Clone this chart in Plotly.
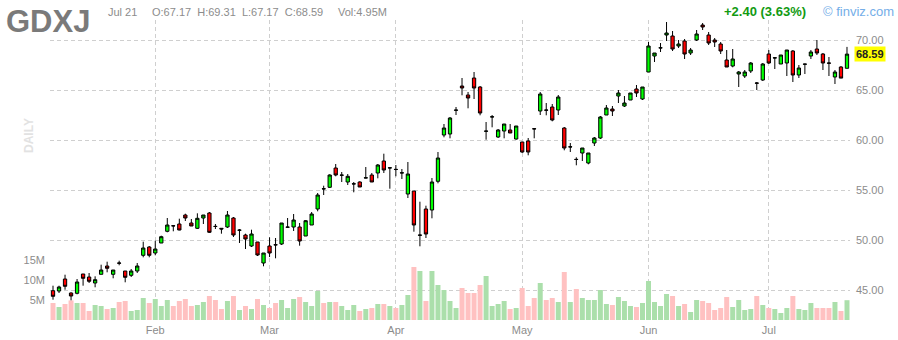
import pandas as pd
import plotly.graph_objects as go

# ---- data ----
holidays = ["2025-01-09", "2025-01-20", "2025-02-17", "2025-04-18",
            "2025-05-26", "2025-06-19", "2025-07-04"]
dates = [d.strftime("%Y-%m-%d") for d in pd.bdate_range("2025-01-07", "2025-07-21")
         if d.strftime("%Y-%m-%d") not in holidays]

opens = [44.93, 44.90, 46.10, 44.70, 44.67, 46.60, 46.30, 45.70, 46.57, 47.40,
         46.57, 47.70, 46.90, 46.47, 46.90, 48.47, 49.30, 48.70, 49.70, 50.87,
         51.43, 51.60, 52.50, 51.70, 51.17, 52.20, 52.70, 51.37, 51.17, 51.30,
         52.20, 50.97, 50.50, 49.40, 49.80, 47.70, 49.40, 49.53, 49.60, 51.27,
         51.30, 51.30, 50.40, 51.50, 53.10, 55.13, 55.27, 57.20, 56.47, 55.80,
         55.60, 55.80, 56.20, 56.50, 56.70, 57.90, 57.20, 57.07, 56.70, 54.60,
         54.90, 50.47, 53.10, 53.00, 55.87, 60.50, 60.60, 62.97, 65.40, 64.50,
         66.20, 65.30, 60.87, 62.30, 60.30, 60.90, 61.00, 60.10, 59.80, 59.90,
         61.13, 62.90, 63.00, 63.30, 63.00, 61.20, 59.30, 58.07, 58.70, 57.70,
         59.70, 60.20, 62.50, 63.10, 64.40, 63.40, 64.00, 65.10, 64.10, 66.80,
         68.40, 69.20, 70.50, 70.40, 69.40, 69.90, 68.70, 70.00, 71.50, 70.50,
         70.00, 69.60, 68.00, 67.40, 66.60, 66.40, 66.90, 65.70, 66.00, 68.60,
         68.20, 67.60, 67.70, 68.90, 66.50, 67.57, 68.40, 69.10, 68.60, 67.70,
         66.30, 67.30, 67.17]
highs = [45.43, 45.43, 46.53, 44.77, 46.10, 46.60, 46.70, 46.37, 47.53, 47.83,
         47.00, 47.93, 46.90, 47.10, 47.70, 49.83, 49.40, 49.93, 50.43, 52.20,
         51.50, 52.13, 52.63, 52.10, 52.67, 52.50, 52.80, 51.60, 51.17, 52.90,
         52.30, 51.10, 50.63, 51.03, 49.80, 48.70, 50.27, 50.20, 51.70, 52.20,
         52.60, 51.70, 52.00, 52.80, 54.70, 55.43, 56.57, 57.60, 56.80, 56.60,
         55.80, 55.87, 57.30, 56.70, 57.60, 58.63, 57.30, 57.50, 57.10, 57.80,
         54.90, 53.83, 53.43, 56.20, 58.80, 61.60, 62.30, 63.30, 66.20, 64.80,
         66.80, 65.40, 61.80, 62.50, 61.10, 61.60, 61.60, 61.40, 59.80, 60.20,
         61.20, 64.80, 63.70, 63.60, 64.50, 61.30, 59.70, 58.27, 59.20, 58.70,
         60.30, 62.40, 63.50, 63.40, 65.00, 64.40, 64.70, 65.50, 65.30, 69.80,
         68.70, 69.70, 71.80, 70.90, 70.00, 70.10, 69.20, 71.00, 71.70, 70.80,
         70.20, 69.80, 69.00, 69.10, 66.90, 67.00, 67.80, 65.80, 67.70, 69.00,
         68.30, 68.50, 69.00, 69.00, 67.50, 67.63, 69.00, 70.00, 68.70, 68.30,
         67.00, 67.40, 69.31]
lows = [44.03, 44.70, 45.03, 43.97, 44.57, 45.43, 45.70, 45.27, 46.57, 46.77,
        46.17, 47.47, 45.77, 46.30, 46.70, 48.27, 48.27, 48.47, 49.70, 50.77,
        50.87, 50.97, 51.90, 51.40, 51.10, 51.60, 50.70, 51.10, 50.63, 51.20,
        50.30, 49.70, 49.10, 49.30, 48.40, 47.37, 48.30, 48.17, 49.50, 51.20,
        50.90, 49.43, 50.40, 51.50, 52.87, 54.50, 55.20, 56.37, 55.80, 55.50,
        54.77, 55.30, 56.17, 55.80, 56.17, 56.70, 55.13, 56.37, 56.10, 54.20,
        50.83, 49.37, 50.20, 52.17, 55.67, 60.27, 60.17, 62.50, 64.47, 63.17,
        64.10, 62.47, 60.03, 61.27, 60.20, 60.17, 60.70, 60.03, 58.70, 58.47,
        60.17, 62.50, 62.47, 61.87, 62.50, 58.97, 58.80, 57.47, 57.90, 57.57,
        59.40, 60.10, 62.50, 62.40, 63.70, 63.30, 64.00, 64.30, 64.00, 66.80,
        67.80, 68.80, 69.90, 68.90, 69.20, 68.10, 68.50, 69.90, 71.00, 69.50,
        69.30, 68.60, 67.30, 67.27, 65.30, 66.20, 66.70, 65.00, 65.90, 67.60,
        67.10, 67.60, 66.40, 65.80, 66.20, 66.60, 68.10, 68.50, 67.00, 66.40,
        65.60, 66.19, 67.17]
closes = [44.37, 45.30, 45.37, 44.40, 45.80, 46.17, 45.87, 46.03, 47.00, 47.17,
          47.00, 47.68, 46.27, 46.90, 47.40, 49.20, 48.47, 49.10, 50.33, 51.50,
          51.41, 51.00, 52.20, 51.40, 52.17, 52.50, 50.77, 51.35, 51.10, 52.50,
          50.50, 50.99, 50.10, 50.60, 48.50, 48.70, 48.70, 49.51, 51.70, 51.29,
          52.00, 49.90, 51.93, 52.60, 54.50, 55.11, 56.50, 56.50, 56.49, 56.37,
          55.62, 55.30, 56.22, 55.80, 57.50, 57.00, 57.22, 57.05, 56.72, 56.60,
          51.50, 50.49, 50.60, 55.80, 58.20, 61.20, 62.20, 62.99, 65.20, 64.20,
          65.20, 62.70, 60.89, 62.32, 61.00, 61.60, 60.70, 61.40, 58.80, 58.80,
          61.11, 64.60, 62.98, 62.00, 64.30, 59.20, 59.32, 58.05, 59.20, 58.70,
          60.20, 62.30, 63.20, 62.90, 64.70, 63.70, 64.70, 64.70, 65.30, 69.40,
          68.70, 69.22, 70.70, 69.10, 69.60, 68.60, 69.00, 70.60, 71.30, 69.70,
          69.80, 68.90, 67.30, 68.10, 66.80, 66.80, 67.70, 65.68, 67.60, 67.70,
          68.22, 68.50, 69.00, 66.50, 67.20, 67.59, 68.80, 68.70, 67.70, 67.68,
          66.80, 66.19, 68.59]
volumes_m = [4.25, 3.25, 4.0, 4.9, 4.25, 4.25, 2.25, 3.75, 3.5, 2.75,
             3.0, 4.5, 4.75, 2.25, 2.5, 5.5, 4.25, 5.25, 3.5, 5.0,
             3.5, 4.75, 5.25, 3.5, 3.75, 4.5, 6.0, 5.0, 2.75, 4.75,
             6.0, 2.5, 3.5, 2.75, 5.25, 3.75, 3.0, 4.25, 5.0, 3.0,
             5.25, 5.75, 4.5, 3.5, 7.25, 4.25, 4.5, 4.5, 3.5, 2.5,
             3.75, 2.25, 2.75, 3.0, 4.0, 4.0, 3.5, 3.0, 3.75, 6.25,
             13.25, 12.25, 4.75, 12.25, 8.75, 7.5, 4.75, 3.0, 8.0, 6.75,
             6.75, 8.75, 11.0, 3.5, 4.0, 4.75, 2.75, 3.0, 8.0, 3.5,
             5.5, 9.25, 5.0, 5.5, 4.5, 12.0, 4.5, 7.75, 5.5, 5.0,
             5.0, 7.5, 4.0, 3.75, 5.75, 4.75, 3.5, 3.25, 4.25, 9.75,
             4.5, 3.5, 6.5, 6.0, 3.5, 4.0, 2.0, 5.0, 4.75, 4.25,
             2.5, 3.0, 5.75, 3.25, 5.0, 2.5, 2.75, 6.0, 3.75, 3.0,
             2.75, 1.75, 3.0, 6.0, 2.75, 2.5, 4.25, 3.0, 3.0, 3.0,
             4.5, 2.25, 4.95]

price_ticks = [45, 50, 55, 60, 65, 70]
vol_ticks = [5, 10, 15]
vol_tick_text = ["5M", "10M", "15M"]

# month ticks: first trading day of each month after the first
month_starts = []
month_names = []
for i, d in enumerate(dates):
    if i > 0 and d[5:7] != dates[i - 1][5:7]:
        month_starts.append(d)
        month_names.append(pd.Timestamp(d).strftime("%b"))

vol_colors = ["#abdfab" if c >= o else "#ffc1c1" for o, c in zip(opens, closes)]

GRID = "#cfcfcf"
TXT = "#8c8c8c"
FONT = "Arial, Liberation Sans, sans-serif"

fig = go.Figure()
fig.add_trace(go.Bar(
    x=dates, y=volumes_m, marker_color=vol_colors, marker_line_width=0,
    yaxis="y", hoverinfo="skip", showlegend=False,
))
fig.add_trace(go.Candlestick(
    x=dates, open=opens, high=highs, low=lows, close=closes,
    yaxis="y2",
    increasing=dict(line=dict(color="#000000", width=1), fillcolor="#00ff00"),
    decreasing=dict(line=dict(color="#000000", width=1), fillcolor="#ff0000"),
    whiskerwidth=0, showlegend=False,
))

fig.update_layout(
    width=898, height=340,
    margin=dict(l=50, r=48, t=20, b=20, autoexpand=False),
    paper_bgcolor="white", plot_bgcolor="white",
    bargap=0.17, boxgap=0.22,
    font=dict(family=FONT, size=11, color=TXT),
    xaxis=dict(
        type="category", range=[-0.5, len(dates) - 0.5],
        rangeslider=dict(visible=False), automargin=False,
        tickvals=month_starts, ticktext=month_names,
        showgrid=True, gridcolor=GRID, griddash="4px,3px", gridwidth=1,
        ticks="", showline=False, zeroline=False,
        tickfont=dict(size=11, color=TXT), ticklabelstandoff=2,
    ),
    yaxis=dict(
        range=[0, 75], side="left", automargin=False,
        tickvals=vol_ticks, ticktext=vol_tick_text,
        showgrid=False, zeroline=False, showline=False, ticks="",
        tickfont=dict(size=11, color=TXT), ticklabelstandoff=4,
    ),
    yaxis2=dict(
        range=[42, 72], side="right", overlaying="y", automargin=False,
        tickvals=price_ticks, tickformat=".2f",
        showgrid=True, gridcolor=GRID, griddash="4px,3px", gridwidth=1,
        zeroline=False, showline=False, ticks="",
        tickfont=dict(size=11, color=TXT), ticklabelstandoff=5,
    ),
)

last_close = closes[-1]
prev_close = closes[-2]
chg = last_close - prev_close
pct = chg / prev_close * 100

# positions given in page pixels (converted to paper coords below)
annotations = [
    dict(text="<b>GDXJ</b>", x=4, y=339 - 1, xanchor="left", yanchor="top",
         font=dict(size=31, color="#7a7a7a")),
    dict(text="Jul 21", x=106, y=338 - 2, xanchor="left", yanchor="top",
         font=dict(size=11, color=TXT)),
    dict(text=f"O:{opens[-1]:.2f}&nbsp;&nbsp;H:{highs[-1]:.2f}&nbsp;&nbsp;L:{lows[-1]:.2f}&nbsp;&nbsp;C:{closes[-1]:.2f}",
         x=150, y=338 - 2, xanchor="left", yanchor="top", font=dict(size=11, color=TXT)),
    dict(text=f"Vol:{volumes_m[-1]:.2f}M", x=336, y=338 - 2, xanchor="left", yanchor="top",
         font=dict(size=11, color=TXT)),
    dict(text=f"<b>{chg:+.2f} ({pct:.2f}%)</b>", x=808, y=338 - 0, xanchor="right", yanchor="top",
         font=dict(size=13, color="#129a12")),
    dict(text="© finviz.com", x=896, y=338 - 0, xanchor="right", yanchor="top",
         font=dict(size=13, color="#74aee8")),
    dict(text="<b>DAILY</b>", x=29, y=340 - 136, xanchor="center", yanchor="middle",
         textangle=-90, font=dict(size=12, color="#e2e2e2")),
]
for a in annotations:
    a.update(xref="paper", yref="paper", showarrow=False)
    a["x"] = (a["x"] - 50) / 800
    a["y"] = (a["y"] - 20) / 300
fig.update_layout(annotations=annotations)

# last price tag on the price axis
fig.add_annotation(
    x=1, xref="paper", xanchor="left", xshift=4, y=last_close, yref="y2",
    text=f"<b>{last_close:.2f}</b>", showarrow=False,
    bgcolor="#ffff00", font=dict(size=11, color="#222222"), borderpad=1,
)

fig.write_html("out.html")
